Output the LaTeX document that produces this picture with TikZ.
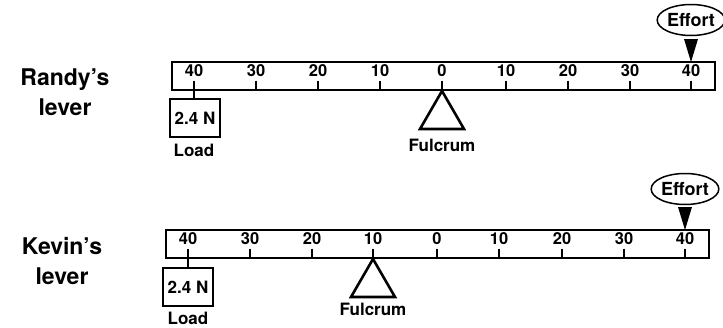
\documentclass[tikz,border=0pt]{standalone}
\usepackage{fontspec}
\setmainfont{TeX Gyre Heros}
\usetikzlibrary{shapes.geometric}
\begin{document}
\begin{tikzpicture}[x=1pt,y=-1pt,
  bar/.style={draw, line width=1.6pt},
  tick/.style={line width=1.2pt},
  num/.style={font=\bfseries\fontsize{16.5}{16}\selectfont, inner sep=0pt},
  lbl/.style={font=\bfseries\fontsize{17}{17}\selectfont, inner sep=0pt},
  title/.style={font=\bfseries\fontsize{23}{30}\selectfont, align=center, inner sep=0pt},
  loadbox/.style={draw, line width=1.2pt, minimum width=50pt, minimum height=38pt, inner sep=0pt, font=\bfseries\fontsize{17}{17}\selectfont},
  fulc/.style={line width=2.6pt, line join=miter},
  effort/.style={draw, ellipse, line width=1.5pt, inner sep=0pt, minimum width=60pt, minimum height=31pt, font=\bfseries\fontsize{18}{18}\selectfont},
  arrowtri/.style={fill=black}
]
\useasboundingbox (0,0) rectangle (723,327);

% ---------- Randy's lever ----------
\node[title] (t1) at (65,92) {Randy’s\\lever};
\node[bar, minimum width=543pt, minimum height=28pt, inner sep=0pt] (b1) at (443.5,76) {};
\foreach \x/\l [count=\i] in {194/40,256/30,318/20,380/10,442/0,506/10,568/20,630/30,691/40}{
  \node[num] (n1\i) at (\x,70.5) {\l};
  \coordinate (k1\i) at (\x,80.5);
  \coordinate (e1\i) at (\x,90);
  \draw[tick] (k1\i) -- (e1\i);
}
\node[loadbox] (box1) at (195,118) {2.4 N};
\draw[tick] (e11) -- (box1.north -| e11);
\node[lbl] (load1) at (194,150) {Load};
\coordinate (ap1) at (442,91);
\coordinate (bl1) at (420,129);
\coordinate (br1) at (464,129);
\draw[fulc] (ap1) -- (bl1) -- (br1) -- cycle;
\node[lbl] (f1) at (442,145) {Fulcrum};
\node[effort] (ef1) at (691,20) {Effort};
\coordinate (ta1) at (691,62);
\coordinate (tl1) at (684,39);
\coordinate (tr1) at (698,39);
\fill[arrowtri] (tl1) -- (tr1) -- (ta1) -- cycle;

% ---------- Kevin's lever ----------
\node[title] (t2) at (62,261) {Kevin’s\\lever};
\node[bar, minimum width=543pt, minimum height=28pt, inner sep=0pt] (b2) at (437.5,244) {};
\foreach \x/\l [count=\i] in {188/40,250/30,312/20,373/10,437/0,499/10,562/20,624/30,685/40}{
  \node[num] (n2\i) at (\x,238.5) {\l};
  \coordinate (k2\i) at (\x,248.5);
  \coordinate (e2\i) at (\x,258);
  \draw[tick] (k2\i) -- (e2\i);
}
\node[loadbox] (box2) at (188,287) {2.4 N};
\draw[tick] (e21) -- (box2.north -| e21);
\node[lbl] (load2) at (188,318.5) {Load};
\coordinate (ap2) at (373,259);
\coordinate (bl2) at (351,297);
\coordinate (br2) at (395,297);
\draw[fulc] (ap2) -- (bl2) -- (br2) -- cycle;
\node[lbl] (f2) at (373,309) {Fulcrum};
\node[effort] (ef2) at (685,189) {Effort};
\coordinate (ta2) at (685,230);
\coordinate (tl2) at (678,207);
\coordinate (tr2) at (692,207);
\fill[arrowtri] (tl2) -- (tr2) -- (ta2) -- cycle;
\end{tikzpicture}
\end{document}
